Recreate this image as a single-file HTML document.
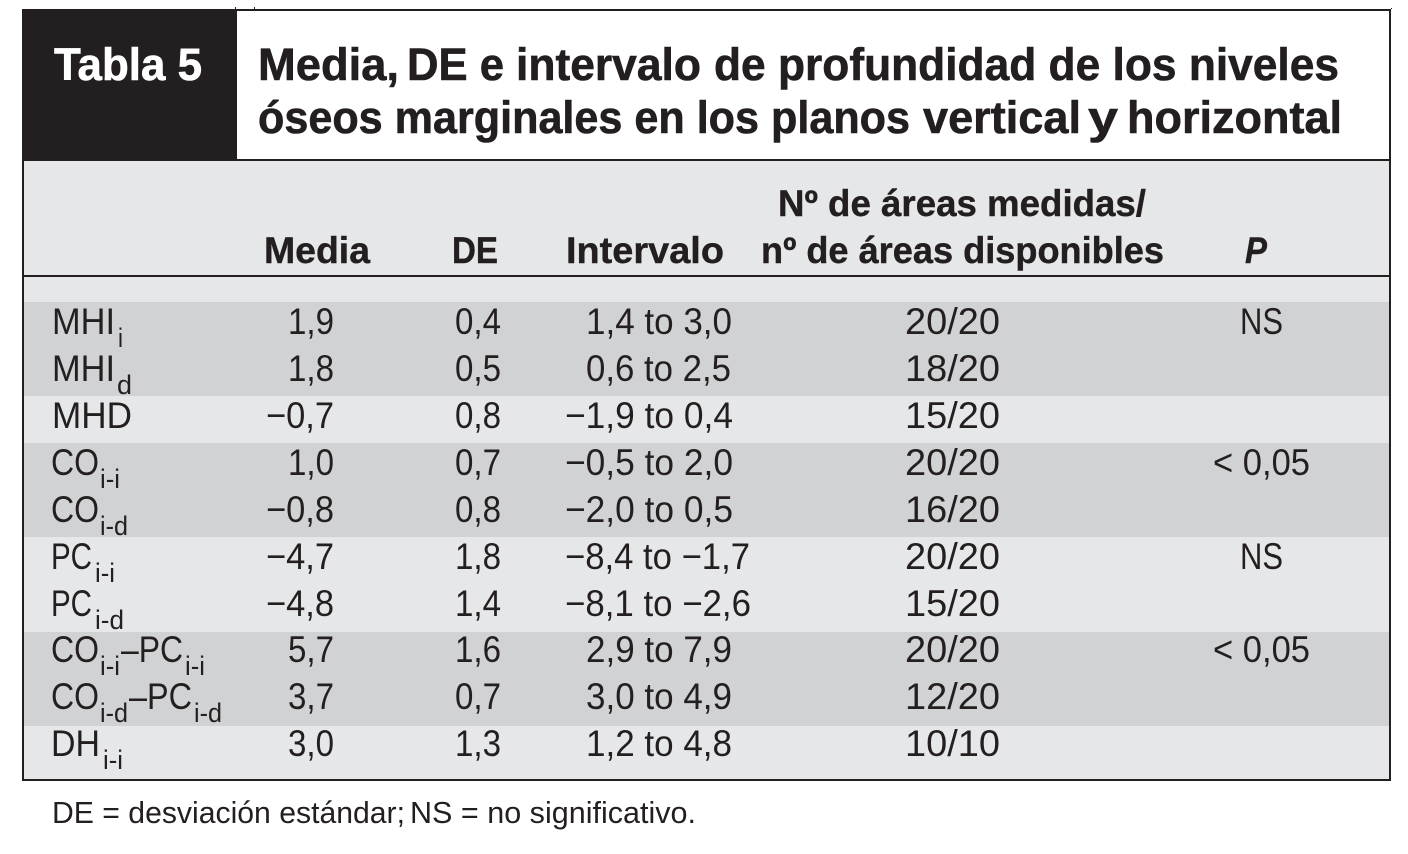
<!DOCTYPE html>
<html lang="es">
<head>
<meta charset="utf-8">
<title>Tabla 5</title>
<style>
html,body{margin:0;padding:0;background:#fff;width:1408px;height:854px;overflow:hidden}
svg{display:block}
text{font-family:"Liberation Sans",sans-serif;fill:#231f20;white-space:pre}
.t{font-size:45px;font-weight:bold;stroke:#231f20;stroke-width:.6px}
.w{fill:#fff;stroke:#fff}
.h{font-size:37px;font-weight:bold;stroke:#231f20;stroke-width:.4px}
.v{font-size:37px}
.s{font-size:27px}
.f{font-size:31px}
</style>
</head>
<body>
<svg xmlns="http://www.w3.org/2000/svg" width="1408" height="854" viewBox="0 0 1408 854">
<rect x="0" y="0" width="1408" height="854" fill="#fff"/>
<rect x="23" y="160" width="1367" height="620" fill="#e5e7e9"/>
<rect x="24" y="302" width="1365" height="94" fill="#d0d2d4"/>
<rect x="24" y="443" width="1365" height="94" fill="#d0d2d4"/>
<rect x="24" y="632" width="1365" height="94" fill="#d0d2d4"/>
<rect x="22" y="9" width="215" height="152" fill="#231f20"/>
<rect x="22" y="9" width="1369" height="2" fill="#231f20"/>
<rect x="22" y="9" width="2" height="772" fill="#231f20"/>
<rect x="1389" y="9" width="2" height="772" fill="#231f20"/>
<rect x="22" y="779" width="1369" height="2" fill="#231f20"/>
<rect x="22" y="159" width="1369" height="2" fill="#231f20"/>
<rect x="24" y="275" width="1365" height="2" fill="#231f20"/>
<rect x="235" y="7" width="1" height="2" fill="#231f20"/>
<rect x="254" y="7" width="1" height="2" fill="#231f20"/>
<rect x="1391" y="8" width="1" height="1" fill="#231f20"/>

<text class="t w" x="54" y="80" textLength="148" lengthAdjust="spacingAndGlyphs">Tabla 5</text>
<g>
<text class="t" x="258" y="80" textLength="141" lengthAdjust="spacingAndGlyphs">Media,</text>
<text class="t" x="407" y="80" textLength="97" lengthAdjust="spacingAndGlyphs">DE e</text>
<text class="t" x="516" y="80" textLength="185" lengthAdjust="spacingAndGlyphs">intervalo</text>
<text class="t" x="714" y="80" textLength="625" lengthAdjust="spacingAndGlyphs">de profundidad de los niveles</text>
</g>
<g>
<text class="t" x="258" y="133" textLength="652" lengthAdjust="spacingAndGlyphs">óseos marginales en los planos</text>
<text class="t" x="923" y="133" textLength="158" lengthAdjust="spacingAndGlyphs">vertical</text>
<text class="t" x="1088" y="133" textLength="30" lengthAdjust="spacingAndGlyphs">y</text>
<text class="t" x="1127" y="133" textLength="215" lengthAdjust="spacingAndGlyphs">horizontal</text>
</g>

<text class="h" x="264" y="263" textLength="106" lengthAdjust="spacingAndGlyphs">Media</text>
<text class="h" x="452" y="263" textLength="46" lengthAdjust="spacingAndGlyphs">DE</text>
<text class="h" x="566" y="263" textLength="158" lengthAdjust="spacingAndGlyphs">Intervalo</text>
<text class="h" x="778" y="216" textLength="368" lengthAdjust="spacingAndGlyphs">Nº de áreas medidas/</text>
<text class="h" x="761" y="263" textLength="403" lengthAdjust="spacingAndGlyphs">nº de áreas disponibles</text>
<text class="h" x="1245" y="263" textLength="22" lengthAdjust="spacingAndGlyphs" font-style="italic">P</text>

<g>
<text class="v" x="52" y="334" textLength="63" lengthAdjust="spacingAndGlyphs">MHI</text><text class="s" x="118" y="347" textLength="5" lengthAdjust="spacingAndGlyphs">i</text>
<text class="v" x="288" y="334" textLength="46" lengthAdjust="spacingAndGlyphs">1,9</text>
<text class="v" x="455" y="334" textLength="46" lengthAdjust="spacingAndGlyphs">0,4</text>
<text class="v" x="586" y="334" textLength="146" lengthAdjust="spacingAndGlyphs">1,4 to 3,0</text>
<text class="v" x="905" y="334" textLength="95" lengthAdjust="spacingAndGlyphs">20/20</text>
<text class="v" x="1240" y="334" textLength="43" lengthAdjust="spacingAndGlyphs">NS</text>
</g>
<g>
<text class="v" x="52" y="381" textLength="63" lengthAdjust="spacingAndGlyphs">MHI</text><text class="s" x="117" y="394" textLength="15" lengthAdjust="spacingAndGlyphs">d</text>
<text class="v" x="288" y="381" textLength="46" lengthAdjust="spacingAndGlyphs">1,8</text>
<text class="v" x="455" y="381" textLength="46" lengthAdjust="spacingAndGlyphs">0,5</text>
<text class="v" x="586" y="381" textLength="145" lengthAdjust="spacingAndGlyphs">0,6 to 2,5</text>
<text class="v" x="905" y="381" textLength="95" lengthAdjust="spacingAndGlyphs">18/20</text>
</g>
<g>
<text class="v" x="52" y="428" textLength="80" lengthAdjust="spacingAndGlyphs">MHD</text>
<text class="v" x="266" y="428" textLength="68" lengthAdjust="spacingAndGlyphs">−0,7</text>
<text class="v" x="455" y="428" textLength="46" lengthAdjust="spacingAndGlyphs">0,8</text>
<text class="v" x="565" y="428" textLength="168" lengthAdjust="spacingAndGlyphs">−1,9 to 0,4</text>
<text class="v" x="905" y="428" textLength="95" lengthAdjust="spacingAndGlyphs">15/20</text>
</g>
<g>
<text class="v" x="51" y="475" textLength="48" lengthAdjust="spacingAndGlyphs">CO</text><text class="s" x="100" y="488" textLength="20" lengthAdjust="spacingAndGlyphs">i-i</text>
<text class="v" x="288" y="475" textLength="46" lengthAdjust="spacingAndGlyphs">1,0</text>
<text class="v" x="455" y="475" textLength="46" lengthAdjust="spacingAndGlyphs">0,7</text>
<text class="v" x="565" y="475" textLength="168" lengthAdjust="spacingAndGlyphs">−0,5 to 2,0</text>
<text class="v" x="905" y="475" textLength="95" lengthAdjust="spacingAndGlyphs">20/20</text>
<text class="v" x="1213" y="475" textLength="97" lengthAdjust="spacingAndGlyphs">&lt; 0,05</text>
</g>
<g>
<text class="v" x="51" y="522" textLength="48" lengthAdjust="spacingAndGlyphs">CO</text><text class="s" x="100" y="535" textLength="28" lengthAdjust="spacingAndGlyphs">i-d</text>
<text class="v" x="266" y="522" textLength="68" lengthAdjust="spacingAndGlyphs">−0,8</text>
<text class="v" x="455" y="522" textLength="46" lengthAdjust="spacingAndGlyphs">0,8</text>
<text class="v" x="565" y="522" textLength="168" lengthAdjust="spacingAndGlyphs">−2,0 to 0,5</text>
<text class="v" x="905" y="522" textLength="95" lengthAdjust="spacingAndGlyphs">16/20</text>
</g>
<g>
<text class="v" x="51" y="569" textLength="41" lengthAdjust="spacingAndGlyphs">PC</text><text class="s" x="95" y="582" textLength="20" lengthAdjust="spacingAndGlyphs">i-i</text>
<text class="v" x="266" y="569" textLength="68" lengthAdjust="spacingAndGlyphs">−4,7</text>
<text class="v" x="455" y="569" textLength="46" lengthAdjust="spacingAndGlyphs">1,8</text>
<text class="v" x="565" y="569" textLength="185" lengthAdjust="spacingAndGlyphs">−8,4 to −1,7</text>
<text class="v" x="905" y="569" textLength="95" lengthAdjust="spacingAndGlyphs">20/20</text>
<text class="v" x="1240" y="569" textLength="43" lengthAdjust="spacingAndGlyphs">NS</text>
</g>
<g>
<text class="v" x="51" y="616" textLength="41" lengthAdjust="spacingAndGlyphs">PC</text><text class="s" x="95" y="629" textLength="29" lengthAdjust="spacingAndGlyphs">i-d</text>
<text class="v" x="266" y="616" textLength="68" lengthAdjust="spacingAndGlyphs">−4,8</text>
<text class="v" x="455" y="616" textLength="46" lengthAdjust="spacingAndGlyphs">1,4</text>
<text class="v" x="565" y="616" textLength="186" lengthAdjust="spacingAndGlyphs">−8,1 to −2,6</text>
<text class="v" x="905" y="616" textLength="95" lengthAdjust="spacingAndGlyphs">15/20</text>
</g>
<g>
<text class="v" x="51" y="662" textLength="48" lengthAdjust="spacingAndGlyphs">CO</text><text class="s" x="100" y="675" textLength="20" lengthAdjust="spacingAndGlyphs">i-i</text><text class="v" x="121" y="662" textLength="62" lengthAdjust="spacingAndGlyphs">–PC</text><text class="s" x="185" y="675" textLength="20" lengthAdjust="spacingAndGlyphs">i-i</text>
<text class="v" x="288" y="662" textLength="46" lengthAdjust="spacingAndGlyphs">5,7</text>
<text class="v" x="455" y="662" textLength="46" lengthAdjust="spacingAndGlyphs">1,6</text>
<text class="v" x="586" y="662" textLength="146" lengthAdjust="spacingAndGlyphs">2,9 to 7,9</text>
<text class="v" x="905" y="662" textLength="95" lengthAdjust="spacingAndGlyphs">20/20</text>
<text class="v" x="1213" y="662" textLength="97" lengthAdjust="spacingAndGlyphs">&lt; 0,05</text>
</g>
<g>
<text class="v" x="51" y="709" textLength="48" lengthAdjust="spacingAndGlyphs">CO</text><text class="s" x="100" y="722" textLength="28" lengthAdjust="spacingAndGlyphs">i-d</text><text class="v" x="129" y="709" textLength="63" lengthAdjust="spacingAndGlyphs">–PC</text><text class="s" x="194" y="722" textLength="28" lengthAdjust="spacingAndGlyphs">i-d</text>
<text class="v" x="288" y="709" textLength="46" lengthAdjust="spacingAndGlyphs">3,7</text>
<text class="v" x="455" y="709" textLength="46" lengthAdjust="spacingAndGlyphs">0,7</text>
<text class="v" x="586" y="709" textLength="146" lengthAdjust="spacingAndGlyphs">3,0 to 4,9</text>
<text class="v" x="905" y="709" textLength="95" lengthAdjust="spacingAndGlyphs">12/20</text>
</g>
<g>
<text class="v" x="51" y="756" textLength="49" lengthAdjust="spacingAndGlyphs">DH</text><text class="s" x="103" y="769" textLength="20" lengthAdjust="spacingAndGlyphs">i-i</text>
<text class="v" x="288" y="756" textLength="46" lengthAdjust="spacingAndGlyphs">3,0</text>
<text class="v" x="455" y="756" textLength="46" lengthAdjust="spacingAndGlyphs">1,3</text>
<text class="v" x="586" y="756" textLength="146" lengthAdjust="spacingAndGlyphs">1,2 to 4,8</text>
<text class="v" x="905" y="756" textLength="95" lengthAdjust="spacingAndGlyphs">10/10</text>
</g>

<g>
<text class="f" x="52" y="823" textLength="353" lengthAdjust="spacingAndGlyphs">DE = desviación estándar;</text>
<text class="f" x="410" y="823" textLength="286" lengthAdjust="spacingAndGlyphs">NS = no significativo.</text>
</g>
</svg>
</body>
</html>
